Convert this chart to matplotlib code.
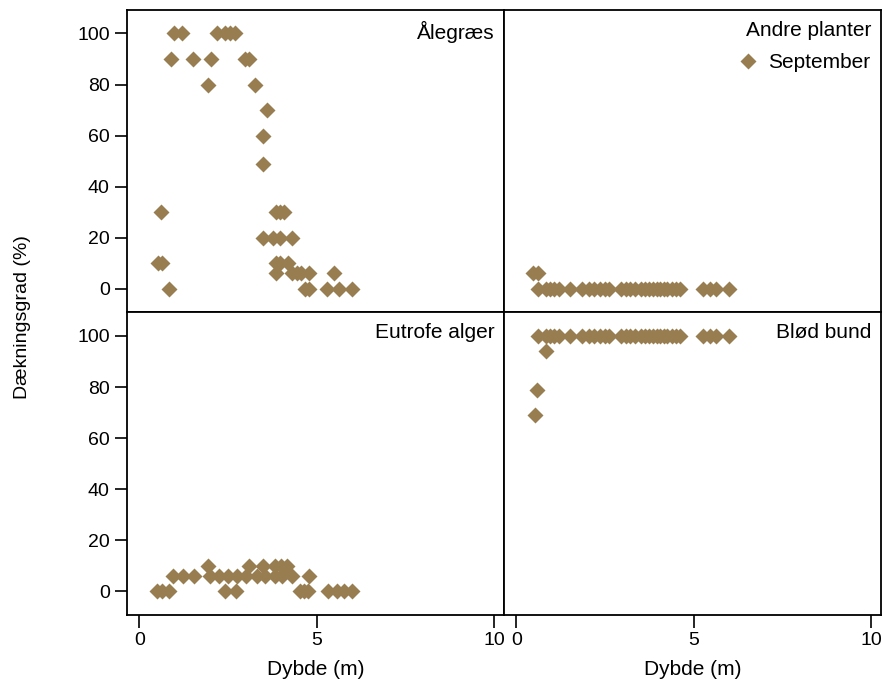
import matplotlib.pyplot as plt

plt.rcParams['font.family'] = ['Liberation Sans', 'DejaVu Sans']

# Ålegræs (depth, cover)
eel_x = [0.98, 1.2, 2.18, 2.42, 2.55, 2.7,
         0.89, 1.5, 2.02, 2.98, 3.1,
         1.92, 3.26, 3.59, 3.49, 3.49,
         0.62, 3.85, 3.97, 4.08,
         3.49, 3.78, 3.97, 4.3,
         0.51, 0.63, 3.85, 3.97, 4.18,
         3.85, 4.3, 4.44, 4.56, 4.79, 5.49,
         0.84, 4.68, 4.79, 5.28, 5.64, 6.0]
eel_y = [100, 100, 100, 100, 100, 100,
         90, 90, 90, 90, 90,
         80, 80, 70, 60, 49,
         30, 30, 30, 30,
         20, 20, 20, 20,
         10, 10, 10, 10, 10,
         6, 6, 6, 6, 6, 6,
         0, 0, 0, 0, 0, 0]

# Andre planter
oth_x = [0.47, 0.61,
         0.61, 0.82, 0.94, 1.05, 1.2, 1.5, 1.85, 2.05, 2.2, 2.35, 2.5, 2.62,
         2.95, 3.08, 3.2, 3.35, 3.5, 3.62, 3.75, 3.85, 3.95, 4.05, 4.15,
         4.25, 4.38, 4.5, 4.62, 5.25, 5.45, 5.62, 6.0]
oth_y = [6, 6] + [0] * 31

# Eutrofe alger
eut_x = [0.5, 0.63, 0.82, 2.42, 2.73, 4.53, 4.64, 4.76, 5.33, 5.57, 5.77, 5.99,
         0.94, 1.22, 1.55, 1.99, 2.23, 2.49, 2.75, 3.01, 3.31, 3.54, 3.83,
         4.01, 4.3, 4.78,
         1.92, 3.1, 3.48, 3.83, 3.99, 4.16]
eut_y = [0] * 12 + [6] * 14 + [10] * 6

# Blød bund
soft_x = [0.61, 0.82, 0.94, 1.05, 1.2, 1.5, 1.85, 2.05, 2.2, 2.35, 2.5, 2.62,
          2.95, 3.08, 3.2, 3.35, 3.5, 3.62, 3.75, 3.85, 3.95, 4.05, 4.15,
          4.25, 4.38, 4.5, 4.62, 5.25, 5.45, 5.62, 6.0,
          0.82, 0.58, 0.52]
soft_y = [100] * 31 + [94, 79, 69]

titles = ['Ålegræs', 'Andre planter', 'Eutrofe alger', 'Blød bund']
xs = [eel_x, oth_x, eut_x, soft_x]
ys = [eel_y, oth_y, eut_y, soft_y]

col = '#977D50'

fig, axes = plt.subplots(2, 2, figsize=(8.82, 6.79), dpi=100)
fig.subplots_adjust(left=0.144, right=0.9989, top=0.9853, bottom=0.0943,
                    wspace=0, hspace=0)

for i, ax in enumerate(axes.flat):
    ax.plot(xs[i], ys[i], 'D', color=col, markersize=8, mec='none',
            label='September')
    ax.set_xlim(-0.35, 10.28)
    ax.set_ylim(-9.3, 109.2)
    ax.set_xticks([0, 5, 10])
    ax.set_yticks([0, 20, 40, 60, 80, 100])
    ax.tick_params(length=9, width=1.2, labelsize=14, pad=3.5)
    for s in ax.spines.values():
        s.set_linewidth(1.3)
    ax.text(0.975, 0.965, titles[i], transform=ax.transAxes, ha='right',
            va='top', fontsize=15)
    if i % 2 == 1:
        ax.tick_params(axis='y', left=False, labelleft=False)
    if i < 2:
        ax.tick_params(axis='x', bottom=False, labelbottom=False)
    else:
        ax.set_xlabel('Dybde (m)', fontsize=15, labelpad=7.5)

axes[0, 1].legend(loc='upper right', bbox_to_anchor=(1.01, 0.905), frameon=False,
                  fontsize=15, handletextpad=0.2, borderaxespad=0.3,
                  handlelength=1.5)
fig.text(0.026, 0.533, 'Dækningsgrad (%)', rotation=90, va='center',
         ha='center', fontsize=14)

fig.savefig('out.png', dpi=100)
